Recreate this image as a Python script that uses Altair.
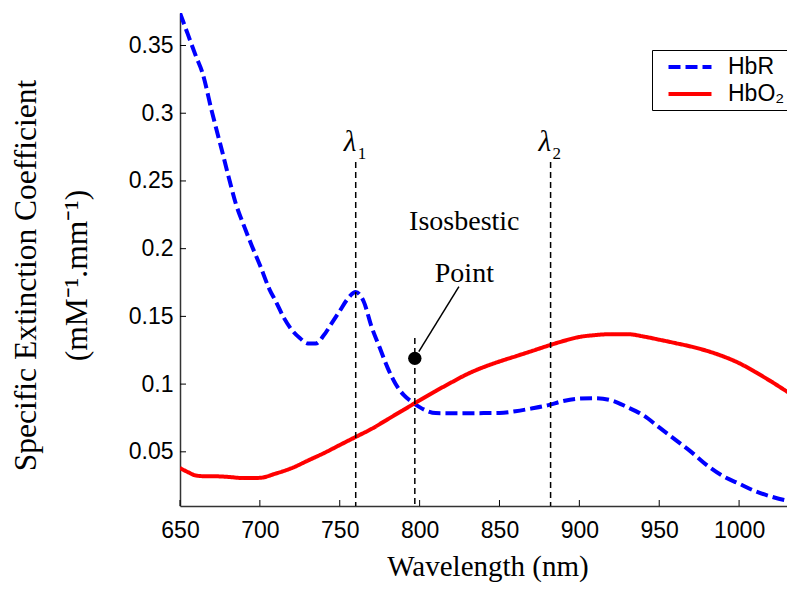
import altair as alt
import pandas as pd

# ---- data ----
hbr_nm = [650, 655, 660, 664, 670, 677, 680, 685, 690, 695, 700, 706, 710, 715, 720, 725, 730, 735,
          740, 745, 750, 755, 760, 765, 770, 775, 780, 785, 790, 795, 800, 805, 810, 820, 830, 840,
          850, 860, 870, 880, 890, 900, 910, 920, 930, 940, 950, 960, 970, 980, 990, 1000, 1010,
          1020, 1030, 1035]
hbr_val = [0.374, 0.358, 0.342, 0.330, 0.301, 0.269, 0.255, 0.233, 0.217, 0.202, 0.188, 0.170,
           0.161, 0.149, 0.140, 0.134, 0.130, 0.130, 0.136, 0.145, 0.154, 0.163, 0.168, 0.161,
           0.142, 0.127, 0.112, 0.100, 0.092, 0.087, 0.083, 0.080, 0.0786, 0.0785, 0.0785, 0.0786,
           0.0787, 0.080, 0.082, 0.0843, 0.0875, 0.0893, 0.0896, 0.088, 0.083, 0.077, 0.068, 0.059,
           0.050, 0.040, 0.032, 0.0265, 0.021, 0.017, 0.014, 0.013]

hbo2_nm = [650, 655, 660, 665, 670, 680, 690, 700, 710, 720, 730, 740, 750, 760, 770, 780, 790,
           800, 810, 820, 830, 840, 850, 860, 870, 880, 890, 900, 910, 920, 930, 940, 950, 960,
           970, 980, 990, 1000, 1010, 1020, 1030, 1035]
hbo2_val = [0.038, 0.035, 0.0325, 0.032, 0.032, 0.0315, 0.0306, 0.0308, 0.034, 0.038, 0.0435,
            0.049, 0.055, 0.061, 0.067, 0.074, 0.081, 0.088, 0.0948, 0.1013, 0.1075, 0.1125,
            0.1167, 0.1205, 0.1243, 0.1282, 0.1318, 0.1348, 0.1362, 0.1369, 0.1369, 0.1352, 0.1328,
            0.1303, 0.1277, 0.1245, 0.1205, 0.1155, 0.109, 0.102, 0.0945, 0.0908]

series_names = ["HbR", "HbO\u2082"]
series_colors = ["#0000FF", "#FF0000"]

x_ticks = [650, 700, 750, 800, 850, 900, 950, 1000]
y_ticks = [0.05, 0.1, 0.15, 0.2, 0.25, 0.3, 0.35]

lambda_nm = [760, 882]
lambda_sub = ["1", "2"]
lambda_top = 0.264
lambda_label_y = 0.272

iso_nm = 797
iso_top = 0.134
dot_nm = [797]
dot_val = [0.119]
leader_nm = [799.5, 824.6]
leader_val = [0.124, 0.172]
iso_text = ["Isosbestic", "Point"]
iso_text_nm = [828, 828]
iso_text_val = [0.2137, 0.1756]

X_DOMAIN = [650, 1035]
Y_DOMAIN = [0.01, 0.374]
W, H = 615, 493

# ---- tables ----
lines_df = pd.concat([
    pd.DataFrame({"nm": hbr_nm, "v": hbr_val, "s": series_names[0]}),
    pd.DataFrame({"nm": hbo2_nm, "v": hbo2_val, "s": series_names[1]}),
])
vl_df = pd.DataFrame({"nm": lambda_nm + [iso_nm], "v": [lambda_top, lambda_top, iso_top]})
lam_df = pd.DataFrame({"nm": lambda_nm, "sub": lambda_sub, "v": [lambda_label_y] * 2})
dot_df = pd.DataFrame({"nm": dot_nm, "v": dot_val})
leader_df = pd.DataFrame({"nm": leader_nm[:1], "v": leader_val[:1], "nm2": leader_nm[1:], "v2": leader_val[1:]})
txt_df = pd.DataFrame({"t": iso_text, "nm": iso_text_nm, "v": iso_text_val})
xt_df = pd.DataFrame({"nm": x_ticks})
yt_df = pd.DataFrame({"v": y_ticks})

xs = alt.Scale(domain=X_DOMAIN, nice=False, zero=False)
ys = alt.Scale(domain=Y_DOMAIN, nice=False, zero=False)

xax = alt.Axis(values=x_ticks, format="d", title="Wavelength (nm)", ticks=False, labelPadding=13,
               labelFlush=False, labelOverlap=False, grid=False,
               titleY=69, titleBaseline="alphabetic")
yax = alt.Axis(values=y_ticks, format=".2~f", ticks=False, labelPadding=7, grid=False,
               labelFlush=False, labelOverlap=False,
               title=["Specific Extinction Coefficient", "(mM\u207B\u00B9.mm\u207B\u00B9)"],
               titleFontSize=31.5,
               titleAngle=270, titleX=-145, titleY=262, titleAlign="center",
               titleBaseline="alphabetic", titleLineHeight=51)

X = alt.X("nm:Q", scale=xs, axis=xax)
Y = alt.Y("v:Q", scale=ys, axis=yax)

lines = alt.Chart(lines_df).mark_line(strokeWidth=4, clip=True, strokeCap="butt",
                                      interpolate="monotone").encode(
    x=X, y=Y,
    color=alt.Color("s:N", scale=alt.Scale(domain=series_names, range=series_colors),
                    legend=alt.Legend(title=None)),
    strokeDash=alt.StrokeDash("s:N", scale=alt.Scale(domain=series_names, range=[[12, 5], [1, 0]]),
                              legend=alt.Legend(title=None)),
    order=alt.Order("nm:Q"),
)

vlines = alt.Chart(vl_df).mark_rule(color="black", strokeWidth=1.5, strokeDash=[6, 4]).encode(
    x=X, y=Y, y2=alt.value(H),
)

lam = alt.Chart(lam_df).mark_text(font="Liberation Serif", fontStyle="italic", fontSize=29,
                                   align="left", baseline="alphabetic", dx=-12).encode(
    x=X, y=Y, text=alt.value("\u03BB"),
)
lam_sub = alt.Chart(lam_df).mark_text(font="Liberation Serif", fontSize=17,
                                       align="left", baseline="alphabetic", dx=2, dy=8).encode(
    x=X, y=Y, text="sub:N",
)

dot = alt.Chart(dot_df).mark_point(filled=True, color="black", size=180, opacity=1).encode(
    x=X, y=Y,
)

leader = alt.Chart(leader_df).mark_rule(color="black", strokeWidth=1.5).encode(
    x=X, y=Y, x2="nm2:Q", y2="v2:Q",
)

txt = alt.Chart(txt_df).mark_text(font="Liberation Serif", fontSize=28, align="center",
                                  baseline="alphabetic").encode(
    x=X, y=Y, text="t:N",
)

xtick = alt.Chart(xt_df).mark_rule(color="black", strokeWidth=1).encode(
    x=X, y=alt.value(H), y2=alt.value(H - 6))
ytick = alt.Chart(yt_df).mark_rule(color="black", strokeWidth=1).encode(
    y=Y, x=alt.value(0), x2=alt.value(6))

chart = alt.layer(lines, vlines, leader, dot, lam, lam_sub, txt, xtick, ytick).properties(
    width=W, height=H,
    autosize=alt.AutoSizeParams(type="none"),
    padding={"left": 172, "top": 5, "right": -8, "bottom": 77},
).configure_view(stroke=None).configure_axis(
    labelFont="Liberation Sans", labelFontSize=23, labelColor="black",
    titleFont="Liberation Serif", titleFontSize=29, titleFontWeight="normal", titleColor="black",
    domainColor="#333333", domainWidth=1.5,
).configure_legend(
    orient="none", legendX=472, legendY=37,
    strokeColor="black", fillColor="white", padding=4,
    symbolType="M-2,0H2", symbolSize=462, symbolStrokeWidth=4,
    symbolOffset=21,
    labelFont="Liberation Sans", labelFontSize=23, labelColor="black", labelOffset=25,
    rowPadding=2, cornerRadius=0,
)

chart.save("out.html", embed_options={"renderer": "svg", "actions": False})
